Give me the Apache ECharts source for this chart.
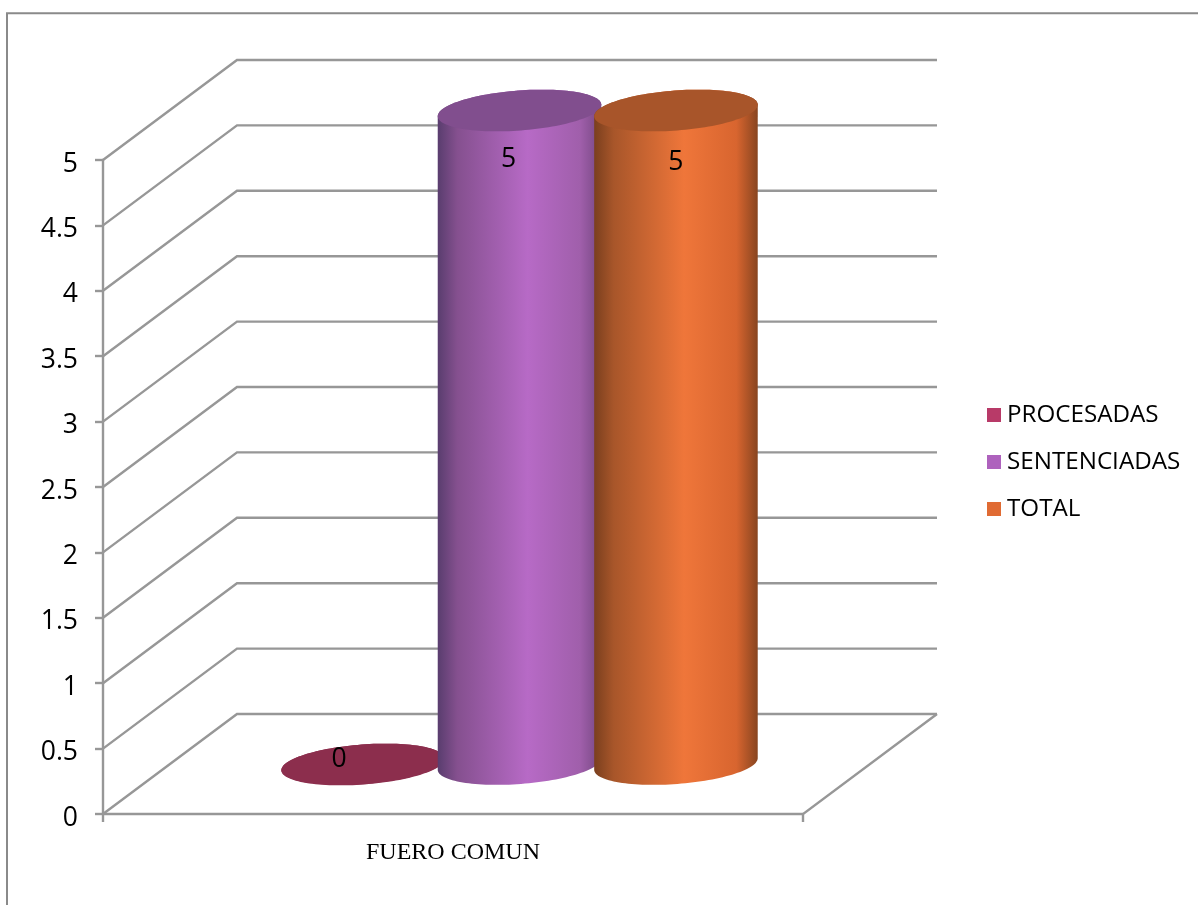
<!DOCTYPE html>
<html>
<head>
<meta charset="utf-8">
<style>html,body{margin:0;padding:0;background:#fff}#c{width:1198px;height:905px}</style>
<script src="https://cdn.jsdelivr.net/npm/echarts@6/dist/echarts.min.js"></script>
</head>
<body>
<div id="c"></div>
<script>
const categories = ['FUERO COMUN'];
const seriesNames = ['PROCESADAS', 'SENTENCIADAS', 'TOTAL'];
const procesadas = [0];
const sentenciadas = [5];
const total = [5];
const yTicks = [0, 0.5, 1, 1.5, 2, 2.5, 3, 3.5, 4, 4.5, 5];

const FONT = '"Open Sans"';
const GREY = '#979797';
const DEPTH_X = 134, DEPTH_Y = 100;
const A = 82, B = 20, TILT = 4.3 * Math.PI / 180;
const SPACING = 0.2235;

const looks = [
  { legend: '#b83a68', top: '#8c2e4d', side: ['#8c2e4d', '#8c2e4d', '#8c2e4d', '#8c2e4d', '#8c2e4d'], lx: -24, ly: -5, slot: -1 },
  { legend: '#ae62bd', top: '#814e8e', side: ['#593d6e', '#85508f', '#b76ac6', '#a05fab', '#754781'], lx: -11, ly: 49, slot: 0 },
  { legend: '#e06b33', top: '#a8552a', side: ['#7a3f1e', '#a8562a', '#ef763a', '#d8652f', '#884520'], lx: 0, ly: 52, slot: 1 }
];

function ellipsePoints(cx, cy, from, to, n) {
  const pts = [];
  for (let i = 0; i <= n; i++) {
    const t = from + (to - from) * i / n;
    const x = A * Math.cos(t), y = B * Math.sin(t);
    pts.push([cx + x * Math.cos(TILT) + y * Math.sin(TILT), cy - x * Math.sin(TILT) + y * Math.cos(TILT)]);
  }
  return pts;
}

function cylinder(look) {
  return function (params, api) {
    const v = api.value(1);
    const top = api.coord([0, v]);
    const base = api.coord([0, 0]);
    const band = params.coordSys.width;
    const cx = top[0] + band * SPACING * look.slot + DEPTH_X / 2 - 0.5;
    const topY = top[1] - DEPTH_Y / 2 + 0.5;
    const baseY = base[1] - DEPTH_Y / 2;
    const lower = ellipsePoints(cx, baseY, Math.PI, 0, 64);
    const upper = ellipsePoints(cx, topY, 0, -Math.PI, 64);
    const s = look.side;
    return {
      type: 'group',
      children: [
        {
          type: 'polygon',
          shape: { points: lower.concat(upper) },
          style: {
            fill: {
              type: 'linear', x: 0, y: 0, x2: 1, y2: 0,
              colorStops: [
                { offset: 0, color: s[0] }, { offset: 0.12, color: s[1] },
                { offset: 0.55, color: s[2] }, { offset: 0.87, color: s[3] },
                { offset: 1, color: s[4] }
              ]
            }
          }
        },
        {
          type: 'polygon',
          shape: { points: ellipsePoints(cx, topY, 0, Math.PI * 2, 128) },
          style: { fill: look.top }
        },
        {
          type: 'text',
          x: cx + look.lx,
          y: topY + look.ly,
          style: {
            text: String(v), fill: '#000', font: '26.5px ' + FONT,
            align: 'center', verticalAlign: 'middle'
          }
        }
      ]
    };
  };
}

function wall(params, api) {
  const v = api.value(0);
  const y = api.coord([0, v])[1];
  const sys = params.coordSys;
  const x0 = sys.x, x1 = sys.x + sys.width;
  const line = { stroke: GREY, lineWidth: 2.4, fill: null };
  const kids = [{
    type: 'polyline',
    shape: { points: [[x0, y], [x0 + DEPTH_X, y - DEPTH_Y], [x1 + DEPTH_X, y - DEPTH_Y]] },
    style: line
  }];
  if (v === 0) {
    kids.push({
      type: 'polyline',
      shape: { points: [[x0, y], [x0, y + 8]] },
      style: line
    }, {
      type: 'polyline',
      shape: { points: [[x1, y + 8], [x1, y], [x1 + DEPTH_X, y - DEPTH_Y]] },
      style: line
    });
  }
  return { type: 'group', children: kids };
}

const values = [procesadas, sentenciadas, total];

const option = {
  animation: false,
  backgroundColor: '#fff',
  graphic: [{
    type: 'polyline',
    shape: { points: [[7, 905], [7, 13.3], [1198, 13.3]] },
    style: { stroke: '#8a8a8a', lineWidth: 2, fill: null }
  }],
  grid: { left: 103, right: 395, top: 160, bottom: 91 },
  legend: {
    orient: 'vertical',
    left: 982,
    top: 394,
    data: seriesNames,
    icon: 'rect',
    itemWidth: 14,
    itemHeight: 14,
    itemGap: 15,
    textStyle: { fontFamily: FONT, fontSize: 24.2, color: '#000', padding: [0, 0, 0, 1], lineHeight: 32 }
  },
  xAxis: {
    type: 'category',
    data: categories,
    axisLine: { lineStyle: { color: GREY, width: 2.4 } },
    axisTick: { show: false },
    axisLabel: { fontFamily: '"Liberation Serif"', fontSize: 24, color: '#000', margin: 27 }
  },
  yAxis: {
    type: 'value',
    min: 0,
    max: 5,
    interval: 0.5,
    splitLine: { show: false },
    axisLine: { show: true, lineStyle: { color: GREY, width: 2.4 } },
    axisTick: { show: true, length: 8, lineStyle: { color: GREY, width: 2.4 } },
    axisLabel: { fontFamily: FONT, fontSize: 26.5, color: '#000', margin: 25, verticalAlign: 'top', lineHeight: 8 }
  },
  series: [{
    type: 'custom',
    name: 'walls',
    silent: true,
    renderItem: wall,
    data: yTicks.map(v => [v]),
    encode: { y: 0 },
    clip: false,
    z: 1
  }].concat(seriesNames.map((name, i) => ({
    type: 'custom',
    name,
    renderItem: cylinder(looks[i]),
    data: categories.map((c, k) => [c, values[i][k]]),
    encode: { x: 0, y: 1 },
    itemStyle: { color: looks[i].legend },
    z: 2 + i
  })))
};

echarts.init(document.getElementById('c'), null, { renderer: 'canvas' }).setOption(option);
</script>
</body>
</html>
